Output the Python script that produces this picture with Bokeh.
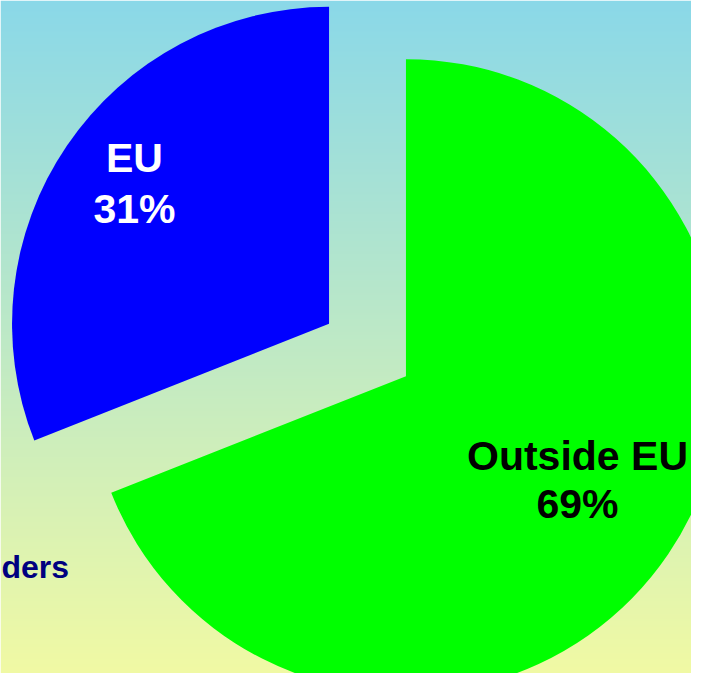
import numpy as np
from bokeh.plotting import figure
from bokeh.models import ColumnDataSource, Range1d
from bokeh.core.properties import value
from bokeh.embed import file_html
from bokeh.resources import INLINE

# ---- data ----
categories = ["Outside EU", "EU"]
shares = [69, 31]
pct_labels = ["69%", "31%"]
slice_colors = ["#00FF00", "#0000FF"]
label_colors = ["#000000", "#FFFFFF"]
legend_fragment = "ders"

# ---- geometry / style (reference pixel frame, y measured upward) ----
W, H = 707, 689
FW, FH = W - 16, H - 16
center = (367.0, 339.5)
radius = 317.0
explode = 46.5
label_pos = [(577, 234, 186), (134, 532, 481)]  # x, baseline line1, baseline line2
font = "Liberation Sans"

p = figure(width=FW, height=FH, output_backend="svg", toolbar_location=None,
           x_range=Range1d(0, FW), y_range=Range1d(H - FH, H),
           min_border=0)
p.axis.visible = False
p.grid.visible = False
p.outline_line_color = None
p.border_fill_color = "#8CD9E8"

# background gradient (light blue top -> light yellow bottom)
top = np.array([138, 216, 232], dtype=float)
bot = np.array([243, 250, 162], dtype=float)
n = H
t = np.linspace(0, 1, n)[:, None]  # row 0 = bottom
cols = bot * (1 - t) + top * t
img = np.zeros((n, 1), dtype=np.uint32)
view = img.view(dtype=np.uint8).reshape((n, 1, 4))
view[:, 0, 0] = cols[:, 0].round().astype(np.uint8)
view[:, 0, 1] = cols[:, 1].round().astype(np.uint8)
view[:, 0, 2] = cols[:, 2].round().astype(np.uint8)
view[:, 0, 3] = 255
p.image_rgba(image=[img], x=0, y=0, dw=W, dh=H)

# pie angles: start at top, clockwise
total = float(sum(shares))
spans = [s / total * 360.0 for s in shares]
starts, ends, cx, cy = [], [], [], []
cur = 90.0
for sp in spans:
    end_cw = cur - sp
    starts.append(np.deg2rad(end_cw))
    ends.append(np.deg2rad(cur))
    mid = np.deg2rad((cur + end_cw) / 2)
    cx.append(center[0] + explode * np.cos(mid))
    cy.append(center[1] + explode * np.sin(mid))
    cur = end_cw

src = ColumnDataSource(dict(x=cx, y=cy, start=starts, end=ends, color=slice_colors))
p.wedge(x="x", y="y", radius=radius, start_angle="start", end_angle="end",
        direction="anticlock", fill_color="color", line_color=None, source=src)

# slice labels
for i in range(len(categories)):
    lx, b1, b2 = label_pos[i]
    p.text(x=[lx, lx], y=[b1, b2], text=[categories[i], pct_labels[i]],
           text_color=label_colors[i], text_font=value(font), text_font_style="bold",
           text_font_size="41px", text_align="center", text_baseline="alphabetic")

# legend text at left
p.text(x=[1], y=[H - 566], text=[legend_fragment], text_color="#000080",
       text_font=value(font), text_font_style="bold", text_font_size="32px",
       text_align="left", text_baseline="alphabetic")

open("out.html", "w").write(file_html(p, INLINE))
